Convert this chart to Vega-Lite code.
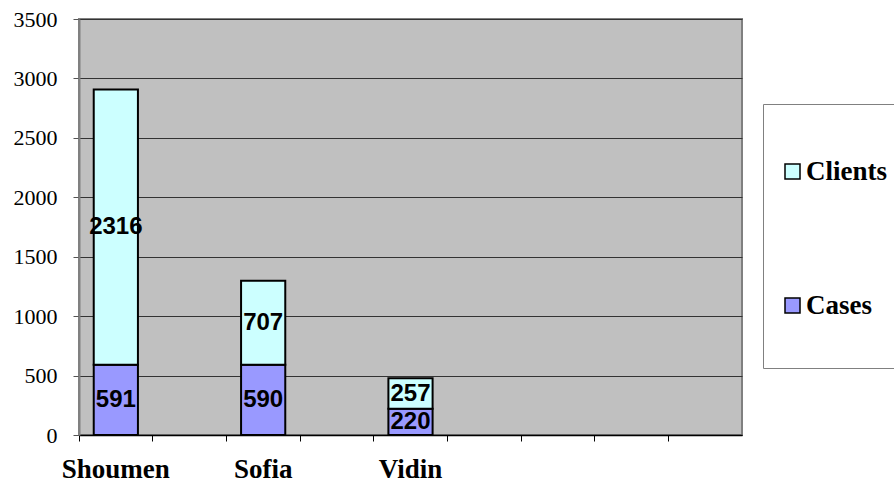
{
  "$schema": "https://vega.github.io/schema/vega-lite/v6.json",
  "width": 663,
  "height": 416,
  "autosize": {"type": "none"},
  "padding": {"left": 79, "top": 19, "right": 152, "bottom": 50},
  "background": "white",
  "config": {
    "view": {"fill": "#C0C0C0", "stroke": "#808080", "strokeWidth": 2}
  },
  "data": {
    "values": [
      {"cat": "Shoumen", "series": "Cases", "value": 591},
      {"cat": "Shoumen", "series": "Clients", "value": 2316},
      {"cat": "Sofia", "series": "Cases", "value": 590},
      {"cat": "Sofia", "series": "Clients", "value": 707},
      {"cat": "Vidin", "series": "Cases", "value": 220},
      {"cat": "Vidin", "series": "Clients", "value": 257}
    ]
  },
  "transform": [
    {"stack": "value", "groupby": ["cat"], "sort": [{"field": "series", "order": "ascending"}], "as": ["v0", "v1"]},
    {"calculate": "(datum.v0 + datum.v1) / 2", "as": "mid"}
  ],
  "layer": [
    {
      "mark": {"type": "bar", "stroke": "#000000", "strokeWidth": 2},
      "encoding": {
        "x": {
          "field": "cat",
          "type": "nominal",
          "scale": {"domain": ["Shoumen", " ", "Sofia", "  ", "Vidin", "   ", "    ", "     ", "      "], "paddingInner": 0.4, "paddingOuter": 0.2},
          "axis": {
            "title": null,
            "labelAngle": 0,
            "bandPosition": -0.3333,
            "domainColor": "#000000",
            "domainWidth": 1.5,
            "tickColor": "#000000",
            "tickWidth": 1,
            "tickSize": 6,
            "labelFont": "Liberation Serif",
            "labelFontSize": 27,
            "labelFontWeight": "bold",
            "labelColor": "#000000",
            "labelPadding": 15,
            "grid": false
          }
        },
        "y": {
          "field": "v0",
          "type": "quantitative",
          "scale": {"domain": [0, 3500], "nice": false},
          "axis": {
            "title": null,
            "values": [0, 500, 1000, 1500, 2000, 2500, 3000, 3500],
            "format": "d",
            "grid": true,
            "gridColor": "#333333",
            "gridWidth": 1,
            "domainColor": "#808080",
            "domainWidth": 2,
            "tickColor": "#555555",
            "tickSize": 6,
            "labelFont": "Liberation Serif",
            "labelFontSize": 22,
            "labelColor": "#000000",
            "labelPadding": 16
          }
        },
        "y2": {"field": "v1"},
        "color": {
          "field": "series",
          "type": "nominal",
          "scale": {"domain": ["Clients", "Cases"], "range": ["#CCFFFF", "#9999FF"]},
          "legend": {
            "title": " ",
            "titleFontSize": 5,
            "titlePadding": 0,
            "orient": "none",
            "legendX": 684,
            "legendY": 85,
            "padding": 49,
            "symbolOffset": -33,
            "labelOffset": 0,
            "rowPadding": 106,
            "fillColor": "#FFFFFF",
            "strokeColor": "#808080",
            "symbolType": "square",
            "symbolSize": 225,
            "symbolStrokeColor": "#000000",
            "symbolStrokeWidth": 1.5,
            "symbolOpacity": 1,
            "labelFont": "Liberation Serif",
            "labelFontSize": 27,
            "labelFontWeight": "bold",
            "labelColor": "#000000"
          }
        }
      }
    },
    {
      "mark": {"type": "text", "font": "Liberation Sans", "fontSize": 24, "fontWeight": "bold", "fill": "#000000", "baseline": "middle"},
      "encoding": {
        "x": {"field": "cat", "type": "nominal"},
        "y": {"field": "mid", "type": "quantitative"},
        "text": {"field": "value", "type": "quantitative"}
      }
    }
  ]
}
